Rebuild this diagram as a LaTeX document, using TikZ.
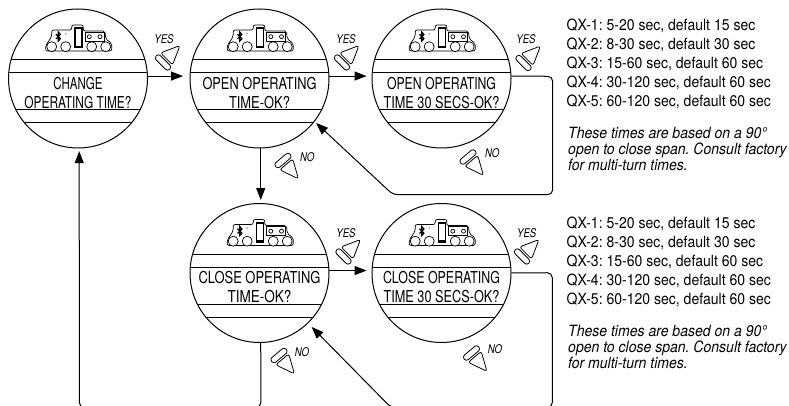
\documentclass[tikz,border=0pt]{standalone}
\usepackage{fontspec}
\usetikzlibrary{arrows.meta}
\newfontfamily\dispf{TeX Gyre Heros}
\newfontfamily\btnf[FakeStretch=.8]{TeX Gyre Heros}
\newfontfamily\listf[FakeStretch=.905]{TeX Gyre Heros}
\newcommand\fitw[2]{\resizebox{#1pt}{\height}{#2}}
\frenchspacing
\tikzset{
  x=1pt,y=-1pt,
  lcdring/.style={draw,circle,line width=1pt,minimum size=139pt,inner sep=0pt},
  lcdline/.style={line width=.9pt},
  iconline/.style={line width=.7pt},
  disptext/.style={inner sep=0pt,align=center,font=\dispf\fontsize{16.4}{19}\selectfont},
  listtext/.style={inner sep=0pt,anchor=north west,align=left,font=\listf\fontsize{15.5}{19}\selectfont},
  notetext/.style={inner sep=0pt,anchor=north west,align=left,font=\listf\itshape\fontsize{15.5}{16}\selectfont},
  btntext/.style={inner sep=0pt,font=\btnf\itshape\fontsize{12}{12}\selectfont},
  flow/.style={line width=1pt,-{Triangle[length=12pt,width=9pt]},rounded corners=5pt},
  pushbtn/.pic={
    \draw[line width=.8pt,rounded corners=2.8pt] (-3,-9.5) rectangle (3,9.5);
    \draw[line width=.8pt,rounded corners=2.5pt] (5,-8.5) -- (24,0) -- (5,8.5) -- cycle;
  }
}
\newcommand\lcdface[7]{%
  \begin{scope}[shift={(#2,#3)}]
    \node[lcdring] (#1) at (0,0) {};
    \begin{scope}
      \clip (0,0) circle (69.5);
      \foreach \ly in {-18.7,-6,31.2,44.2} \draw[lcdline] (-70,\ly) -- (70,\ly);
    \end{scope}
    \draw[iconline,rounded corners=2pt] (-32.3,-27.5) -- (-32.3,-33) -- (-26.3,-41.8) -- (-26.3,-48.5) -- (-6.3,-48.5) -- (-6.3,-53.5) -- (5.3,-53.5) -- (5.3,-47.5) -- (27,-47.5) -- (27.7,-39.5) -- (33.7,-35.2) -- (33.7,-27.5) -- cycle;
    \foreach \cx in {-26.3,-12.3,13.7,27.7} \draw[iconline,fill=white] (\cx,-31.8) circle (5);
    \fill (-3.7,-51.2) rectangle (4.7,-30.2);
    \fill[white] (-2.2,-49) rectangle (3.2,-32.6);
    \draw[iconline,fill=white] (7,-46.2) rectangle (26,-37.5);
    \draw[iconline] (11.3,-41.8) circle (2) (22,-41.8) circle (2);
    \draw[line width=1.2pt] (-22,-44.3) -- (-17.6,-39.8) -- (-19.7,-37.5) -- (-19.7,-46.5) -- (-17.6,-44) -- (-22,-39.6);
    \fill[gray!70] (-12.3,-44.8) circle (1);
    \node[disptext] (#1t) at (0,14.5) {\fitw{#6}{#4}\\\fitw{#7}{#5}};
  \end{scope}}
\begin{document}
\begin{tikzpicture}
\clip (0,0) rectangle (789,406);
\fill[white] (0,0) rectangle (789,406);
\lcdface{ca}{78}{78.5}{CHANGE}{OPERATING TIME?}{49}{107}
\lcdface{cb}{259.5}{78.5}{OPEN OPERATING}{TIME-OK?}{114}{61}
\lcdface{cc}{441.5}{78.5}{OPEN OPERATING}{TIME 30 SECS-OK?}{109}{116}
\lcdface{cd}{259.5}{273}{CLOSE OPERATING}{TIME-OK?}{122}{64}
\lcdface{ce}{441.5}{273}{CLOSE OPERATING}{TIME 30 SECS-OK?}{117}{116}

\coordinate (r1) at (552.7,76.3);
\coordinate (r2) at (552.7,194.7);
\coordinate (r3) at (393,194.7);
\coordinate (s1) at (552.3,272.7);
\coordinate (s2) at (552.3,407.5);
\coordinate (s3) at (391,407.5);
\coordinate (l1) at (260.9,407.5);
\coordinate (l2) at (79.3,407.5);

\draw[flow,shorten >=6.5pt] (ca.2) -- (cb.178);
\draw[flow,shorten >=5pt] (cb.2) -- (cc.178);
\draw[flow,shorten >=5pt] (cd.2) -- (ce.178);
\draw[flow,shorten >=3pt] (cb.-89) -- (cd.89);
\draw[flow,shorten >=2pt] (cc.2) -- (r1) -- (r2) -- (r3) -- (cb.-38);
\draw[flow,shorten >=5pt] (ce.0) -- (s1) -- (s2) -- (s3) -- (cd.-46);
\draw[flow,shorten >=2.7pt] (cd.-89) -- (l1) -- (l2) -- (ca.-89);

\path (163,62.5) pic[rotate=45] {pushbtn};
\path (342,62.5) pic[rotate=45] {pushbtn};
\path (523.5,63) pic[rotate=45] {pushbtn};
\path (343.5,256.5) pic[rotate=45] {pushbtn};
\path (522,256.5) pic[rotate=45] {pushbtn};
\path (283,160.5) pic[rotate=-50] {pushbtn};
\path (468,157) pic[rotate=-50] {pushbtn};
\path (279,355.5) pic[rotate=-50] {pushbtn};
\path (471.5,353) pic[rotate=-50] {pushbtn};

\node[btntext] (y1) at (164,39) {YES};
\node[btntext] (y2) at (346,39) {YES};
\node[btntext] (y3) at (526,39) {YES};
\node[btntext] (y4) at (346,233.3) {YES};
\node[btntext] (y5) at (526.7,233.3) {YES};
\node[btntext] (n1) at (307.3,157) {NO};
\node[btntext] (n2) at (492.3,153) {NO};
\node[btntext] (n3) at (302,352.3) {NO};
\node[btntext] (n4) at (495,349.3) {NO};

\node[listtext] (q1) at (566.5,18.5) {QX-1: 5-20 sec, default 15 sec\\QX-2: 8-30 sec, default 30 sec\\QX-3: 15-60 sec, default 60 sec\\QX-4: 30-120 sec, default 60 sec\\QX-5: 60-120 sec, default 60 sec};
\node[notetext] (t1) at (568,127) {These times are based on a 90°\\open to close span. Consult factory\\for multi-turn times.};
\node[listtext] (q2) at (566.5,216.5) {QX-1: 5-20 sec, default 15 sec\\QX-2: 8-30 sec, default 30 sec\\QX-3: 15-60 sec, default 60 sec\\QX-4: 30-120 sec, default 60 sec\\QX-5: 60-120 sec, default 60 sec};
\node[notetext] (t2) at (568,325) {These times are based on a 90°\\open to close span. Consult factory\\for multi-turn times.};
\end{tikzpicture}
\end{document}
